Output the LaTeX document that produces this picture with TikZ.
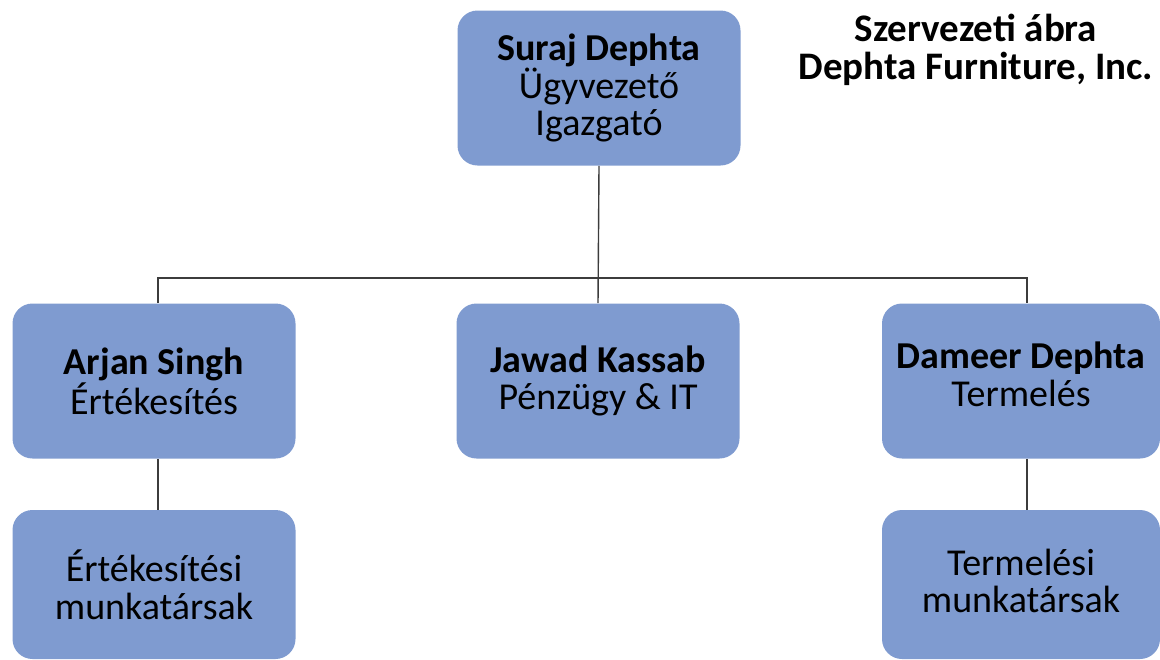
\documentclass[tikz,border=0pt]{standalone}
\usepackage{fontspec}
\setmainfont{Carlito}
\usepackage{tikz}
\usetikzlibrary{positioning}

\definecolor{boxblue}{RGB}{127,155,208}
\definecolor{linegray}{RGB}{60,60,60}

\tikzset{
    orgbox/.style={fill=boxblue, rounded corners=10pt, minimum width=141.5pt,
        minimum height=77.5pt, align=center, inner sep=0pt,
        font=\fontsize{19}{18.8}\selectfont},
    orgtext/.style={align=center, inner sep=0pt, font=\fontsize{19}{18.8}\selectfont},
    orgline/.style={draw=linegray, line width=0.7pt}
}

\begin{document}
\begin{tikzpicture}[x=0.5pt, y=-0.5pt]
    \useasboundingbox (0, 0) rectangle (1160, 659);
    \node[orgbox] (ceo) at (599, 88) {\textbf{Suraj Dephta}\\Ügyvezető\\Igazgató};
    \node[orgbox] (sales) at (154, 381) {\textbf{Arjan Singh}\\Értékesítés};
    \node[orgbox] (finance) at (598, 381) {\textbf{Jawad Kassab}\\Pénzügy \& IT};
    \node[orgbox, minimum width=139pt] (prod) at (1021, 381) {};
    \node[orgtext] (prodtext) at (1021, 374) {\textbf{Dameer Dephta}\\Termelés};
    \node[orgbox, minimum height=74.5pt] (salesstaff) at (154, 584.5) {Értékesítési\\munkatársak};
    \node[orgbox, minimum width=139pt, minimum height=74.5pt] (prodstaff) at (1021, 584.5) {};
    \node[orgtext] (prodstafftext) at (1021, 581) {Termelési\\munkatársak};
    \node[orgtext, font=\fontsize{19.5}{19}\selectfont\bfseries] (title) at (976, 50)
        {Szervezeti ábra\\Dephta Furniture, Inc.};
    \coordinate (bus) at (599, 278);
    % connectors
    \draw[orgline] (ceo.south) -- (finance.north);
    \draw[orgline] ([xshift=2pt]sales.north) |- (bus) -| ([xshift=3pt]prod.north);
    \draw[orgline] ([xshift=2pt]sales.south) -- ([xshift=2pt]salesstaff.north);
    \draw[orgline] ([xshift=3pt]prod.south) -- ([xshift=3pt]prodstaff.north);
\end{tikzpicture}
\end{document}
